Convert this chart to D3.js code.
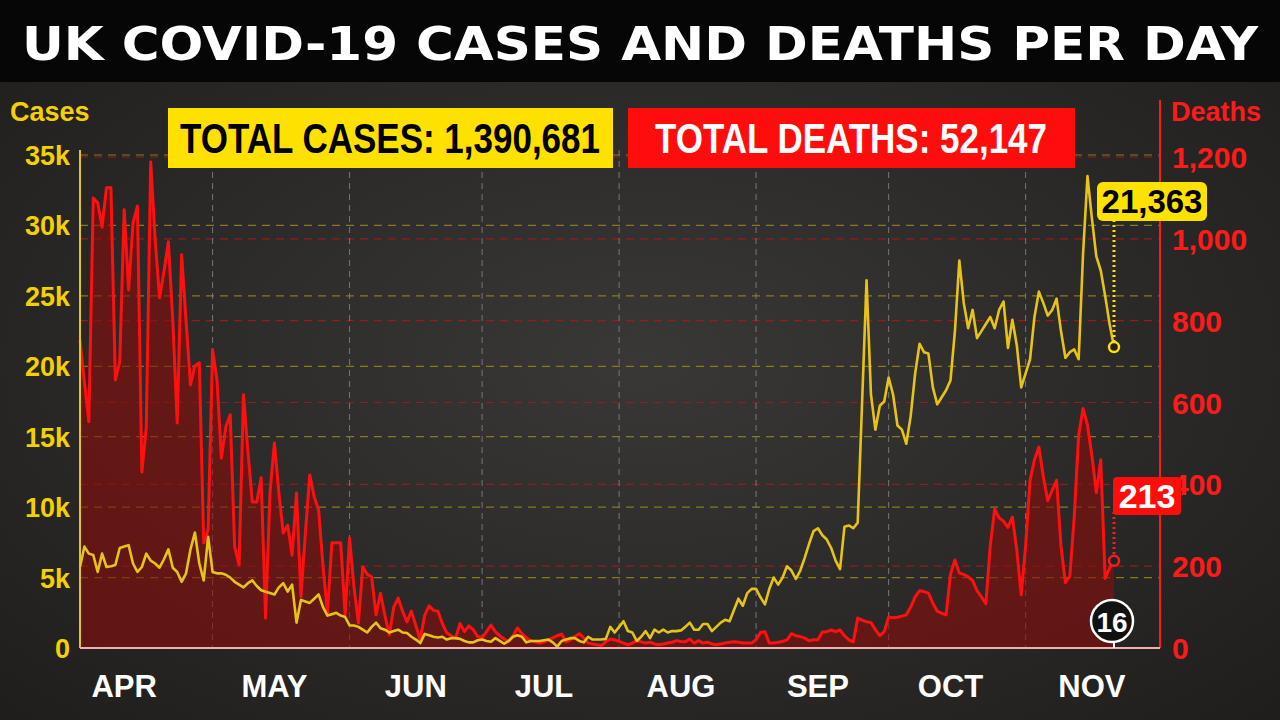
<!DOCTYPE html>
<html><head><meta charset="utf-8">
<script src="https://cdn.jsdelivr.net/npm/d3@7"></script>
<style>body{margin:0;background:#000}svg{display:block}</style>
</head><body><svg id="c" width="1280" height="720"></svg>
<script>
const startDate = "2020-04-01";
const casesThousands = [5.75,7.2,6.7,6.6,5.4,6.7,5.75,5.8,5.9,7.1,7.2,7.3,6.0,5.4,5.75,6.7,6.2,6.0,5.7,6.3,7.0,5.7,5.4,4.7,5.3,7.0,8.2,6.0,4.8,7.9,5.4,5.3,5.3,5.2,5.0,4.7,4.5,4.3,4.6,4.8,4.4,4.1,4.0,3.9,3.8,4.3,4.6,4.0,4.5,1.8,3.4,3.3,3.2,3.5,3.8,2.9,2.3,2.4,2.5,2.3,2.2,1.6,1.6,1.5,1.3,1.1,1.5,1.8,1.4,1.3,1.1,1.2,1.3,
1.1,1.06,0.8,0.6,0.35,1.0,0.9,0.8,0.75,0.8,0.6,0.7,0.7,0.65,0.5,0.4,0.4,0.55,0.6,0.5,0.45,0.7,0.5,0.3,0.5,0.8,0.9,0.8,0.4,0.5,0.5,0.5,0.55,0.6,0.4,0.1,0.5,0.6,0.7,0.7,0.5,0.4,0.8,0.6,0.6,0.6,0.65,1.5,1.1,1.5,1.9,1.2,1.1,0.5,0.8,1.2,0.7,1.3,1.1,1.3,1.1,1.2,1.2,1.25,1.5,1.8,1.3,1.3,1.7,1.7,1.2,1.5,1.8,2.0,1.9,2.7,3.5,3.0,3.9,4.2,4.2,3.6,3.1,4.2,5.0,4.5,5.0,5.8,5.5,4.9,5.5,6.4,7.4,8.3,8.5,8.0,7.7,7.1,6.2,5.6,8.6,8.7,8.5,8.9,17.5,26.1,18.0,15.5,17.2,17.5,19.2,18.0,15.8,15.5,14.5,16.5,19.5,21.6,21.0,20.9,18.5,17.3,17.8,18.3,19.0,22.5,27.5,24.5,22.7,24.0,22.0,22.5,23.0,23.5,22.7,24.0,24.6,21.3,23.3,21.5,18.5,19.5,20.5,23.5,25.3,24.5,23.6,24.0,24.8,22.5,20.6,21.0,21.2,20.5,28.0,33.5,30.5,27.8,26.8,25.0,23.0,21.363];
const deaths = [753,650,553,1100,1088,1029,1125,1125,655,700,1071,875,1039,1080,430,540,1188,1000,856,920,993,800,550,961,800,643,690,697,257,289,729,655,464,540,570,247,203,619,480,357,357,416,73,380,501,380,281,300,227,379,125,280,423,370,337,200,86,257,257,257,81,269,150,61,198,180,174,81,134,80,32,100,122,
90,64,90,55,20,80,103,92,90,60,37,30,24,60,40,54,45,28,25,40,56,40,30,22,16,30,49,35,25,18,15,12,15,20,25,30,34,15,20,28,35,25,12,10,8,6,15,22,20,16,12,8,12,18,15,12,14,10,8,10,12,14,18,16,15,22,12,18,12,14,10,8,10,12,14,15,14,12,12,12,20,38,40,12,12,14,16,20,35,30,28,24,18,20,20,39,40,44,40,44,30,20,15,73,68,64,62,45,30,40,76,74,75,78,81,100,125,140,138,134,110,90,85,81,180,215,183,180,174,165,140,125,108,250,340,318,310,295,320,240,130,250,410,460,491,420,360,385,410,250,160,175,320,520,585,545,470,380,460,170,195,213];
const monthLabels = ["APR","MAY","JUN","JUL","AUG","SEP","OCT","NOV"];
const monthLabelDates = ["2020-04-11","2020-05-15","2020-06-16","2020-07-15","2020-08-15","2020-09-15","2020-10-15","2020-11-16"];
const monthStarts = ["2020-05-01","2020-06-01","2020-07-01","2020-08-01","2020-09-01","2020-10-01","2020-11-01"];
const caseTicks = [0,5,10,15,20,25,30,35];
const deathTicks = [0,200,400,600,800,1000,1200];
const totalCases = "TOTAL CASES: 1,390,681";
const totalDeaths = "TOTAL DEATHS: 52,147";
const lastCasesLabel = "21,363", lastDeathsLabel = "213", dayLabel = "16";

const svg = d3.select("#c");
const parse = d3.timeParse("%Y-%m-%d");
const t0 = parse(startDate);
const dates = deaths.map((_,i)=>d3.timeDay.offset(t0,i));
const x = d3.scaleTime().domain([t0, dates[dates.length-1]]).range([80,1114]);
const yC = d3.scaleLinear().domain([0,35]).range([648,155]);
const yD = d3.scaleLinear().domain([0,1200]).range([648,157]);
const F = "'Liberation Sans Narrow','Liberation Sans',sans-serif";

// background
const defs = svg.append("defs");
const rg = defs.append("radialGradient").attr("id","bg").attr("cx","50%").attr("cy","50%").attr("r","70%");
rg.append("stop").attr("offset","0%").attr("stop-color","#3a3836");
rg.append("stop").attr("offset","100%").attr("stop-color","#1f1e1d");
svg.append("rect").attr("width",1280).attr("height",720).attr("fill","url(#bg)");
svg.append("rect").attr("width",1280).attr("height",82).attr("fill","#060606");
svg.append("text").attr("x",640).attr("y",60).attr("text-anchor","middle").attr("fill","#fff")
  .attr("font-family","'DejaVu Sans',sans-serif").attr("font-weight","bold").attr("font-size",46)
  .attr("textLength",1236).attr("lengthAdjust","spacingAndGlyphs").text("UK COVID-19 CASES AND DEATHS PER DAY");

// grid
svg.append("g").selectAll("line").data(deathTicks.slice(1)).join("line")
  .attr("x1",80).attr("x2",1160).attr("y1",d=>yD(d)).attr("y2",d=>yD(d))
  .attr("stroke","#9a1a16").attr("stroke-dasharray","8,6").attr("stroke-width",1.2);
svg.append("g").selectAll("line").data(caseTicks.slice(1)).join("line")
  .attr("x1",80).attr("x2",1160).attr("y1",d=>yC(d)).attr("y2",d=>yC(d))
  .attr("stroke","#8a7a1e").attr("stroke-dasharray","8,6").attr("stroke-width",1.2);
svg.append("g").selectAll("line").data(monthStarts).join("line")
  .attr("x1",d=>x(parse(d))).attr("x2",d=>x(parse(d))).attr("y1",150).attr("y2",648)
  .attr("stroke","#777").attr("stroke-dasharray","6,5").attr("stroke-width",1);

// deaths area + line
svg.append("path").datum(deaths).attr("fill","#8a0d0a").attr("opacity",0.6)
  .attr("d",d3.area().x((d,i)=>x(dates[i])).y0(648).y1(d=>yD(d)));
svg.append("path").datum(deaths).attr("fill","none").attr("stroke","#ff1010").attr("stroke-width",3).attr("stroke-linejoin","round")
  .attr("d",d3.line().x((d,i)=>x(dates[i])).y(d=>yD(d)));
svg.append("path").datum(casesThousands).attr("fill","none").attr("stroke","#e6c417").attr("stroke-width",2.6).attr("stroke-linejoin","round")
  .attr("d",d3.line().x((d,i)=>x(dates[i])).y(d=>yC(d)));

// axes lines
svg.append("line").attr("x1",80).attr("x2",80).attr("y1",150).attr("y2",648).attr("stroke","#e6c417").attr("stroke-width",2);
svg.append("line").attr("x1",1160).attr("x2",1160).attr("y1",100).attr("y2",648).attr("stroke","#ff1a1a").attr("stroke-width",2);
svg.append("line").attr("x1",80).attr("x2",1160).attr("y1",648).attr("y2",648).attr("stroke","#f0b0b0").attr("stroke-width",2);

// axis labels
const axL = d3.axisLeft(yC).tickValues(caseTicks).tickSize(0).tickPadding(10).tickFormat(d=>d===0?"0":d+"k");
const gL = svg.append("g").attr("transform","translate(80,0)").call(axL);
gL.select(".domain").remove();
gL.selectAll("text").attr("fill","#f5d000").attr("font-family",F).attr("font-weight","bold").attr("font-size",27).attr("dy","0.35em");
const axR = d3.axisRight(yD).tickValues(deathTicks).tickSize(0).tickPadding(12).tickFormat(d3.format(","));
const gR = svg.append("g").attr("transform","translate(1160,0)").call(axR);
gR.select(".domain").remove();
gR.selectAll("text").attr("fill","#ff1a1a").attr("font-family",F).attr("font-weight","bold").attr("font-size",30).attr("dy","0.35em");
svg.append("text").attr("x",10).attr("y",121).attr("fill","#f5d000").attr("font-family",F).attr("font-weight","bold").attr("font-size",27).text("Cases");
svg.append("text").attr("x",1171).attr("y",121).attr("fill","#ff1a1a").attr("font-family",F).attr("font-weight","bold").attr("font-size",27).text("Deaths");
svg.append("g").selectAll("text").data(monthLabels).join("text")
  .attr("x",(d,i)=>x(parse(monthLabelDates[i]))).attr("y",697).attr("text-anchor","middle")
  .attr("fill","#fff").attr("font-family",F).attr("font-weight","bold").attr("font-size",31).text(d=>d);

// total boxes
svg.append("rect").attr("x",168).attr("y",108).attr("width",445).attr("height",60).attr("fill","#ffe100");
svg.append("text").attr("x",390).attr("y",153).attr("text-anchor","middle").attr("fill","#000").attr("font-family",F).attr("font-weight","bold").attr("font-size",42).attr("textLength",420).attr("lengthAdjust","spacingAndGlyphs").text(totalCases);
svg.append("rect").attr("x",628).attr("y",108).attr("width",447).attr("height",60).attr("fill","#ff0d0d");
svg.append("text").attr("x",851).attr("y",153).attr("text-anchor","middle").attr("fill","#fff").attr("font-family",F).attr("font-weight","bold").attr("font-size",42).attr("textLength",392).attr("lengthAdjust","spacingAndGlyphs").text(totalDeaths);

// end labels
const last = dates.length-1, lx = x(dates[last]);
const cy = yC(casesThousands[last]), dy = yD(deaths[last]);
svg.append("line").attr("x1",lx).attr("x2",lx).attr("y1",220).attr("y2",cy).attr("stroke","#ffe100").attr("stroke-width",3).attr("stroke-dasharray","2,3");
svg.append("circle").attr("cx",lx).attr("cy",cy).attr("r",5).attr("fill","#222").attr("stroke","#ffe100").attr("stroke-width",2.5);
svg.append("rect").attr("x",1097).attr("y",182).attr("width",110).attr("height",39).attr("rx",6).attr("fill","#ffe100");
svg.append("text").attr("x",1152).attr("y",213).attr("text-anchor","middle").attr("fill","#000").attr("font-family",F).attr("font-weight","bold").attr("font-size",33).text(lastCasesLabel);
svg.append("line").attr("x1",lx).attr("x2",lx).attr("y1",512).attr("y2",dy).attr("stroke","#ff1a1a").attr("stroke-width",3).attr("stroke-dasharray","2,3");
svg.append("circle").attr("cx",lx).attr("cy",dy).attr("r",5).attr("fill","#222").attr("stroke","#ff1a1a").attr("stroke-width",2.5);
svg.append("rect").attr("x",1113).attr("y",477).attr("width",68).attr("height",38).attr("rx",4).attr("fill","#ff0d0d");
svg.append("text").attr("x",1147).attr("y",508).attr("text-anchor","middle").attr("fill","#fff").attr("font-family",F).attr("font-weight","bold").attr("font-size",34).text(lastDeathsLabel);
svg.append("line").attr("x1",lx).attr("x2",lx).attr("y1",640).attr("y2",648).attr("stroke","#fff").attr("stroke-width",2);
svg.append("circle").attr("cx",lx-2).attr("cy",621).attr("r",21).attr("fill","#111").attr("stroke","#fff").attr("stroke-width",2.5);
svg.append("text").attr("x",lx-2).attr("y",632).attr("text-anchor","middle").attr("fill","#fff").attr("font-family",F).attr("font-weight","bold").attr("font-size",28).text(dayLabel);
</script></body></html>
